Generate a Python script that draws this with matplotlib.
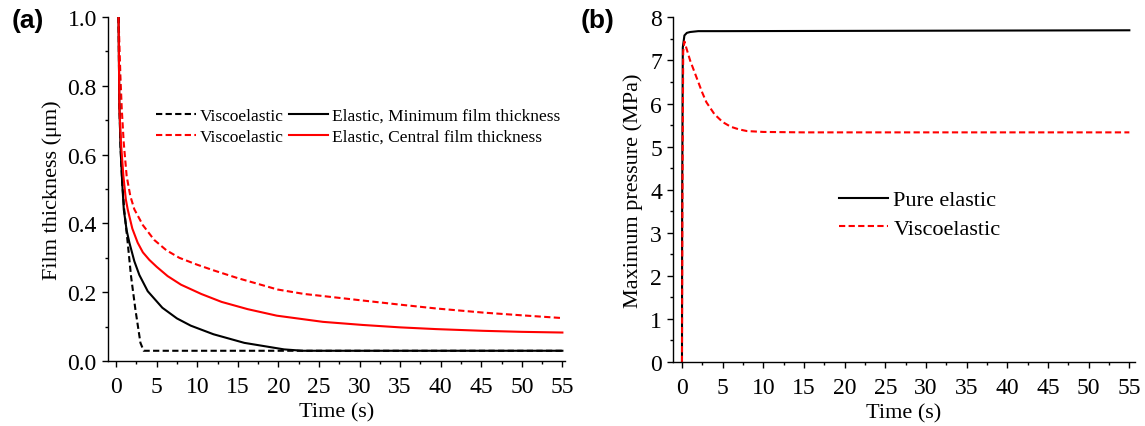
import numpy as np
import matplotlib
matplotlib.use("Agg")
import matplotlib.pyplot as plt
from matplotlib.ticker import MultipleLocator, FormatStrFormatter

plt.rcParams['font.family'] = ['Liberation Serif', 'DejaVu Serif']

# panel (a): film thickness vs time
t_vmin = [0.3, 0.4, 0.55, 0.75, 1.0, 1.43, 1.84, 2.38, 3.0, 3.4, 55]
h_vmin = [1.0, 0.75, 0.62, 0.52, 0.44, 0.344, 0.247, 0.15, 0.053, 0.03, 0.03]

t_emin = [0.3, 0.4, 0.55, 0.75, 0.95, 1.3, 1.64, 2.25, 2.87, 3.9, 5.7, 7.5, 9.2, 12, 15.8, 20.7, 23, 55]
h_emin = [1.0, 0.75, 0.62, 0.52, 0.44, 0.38, 0.344, 0.29, 0.25, 0.203, 0.155, 0.124, 0.103, 0.078, 0.053, 0.034, 0.03, 0.03]

t_vcen = [0.3, 0.53, 0.7, 0.94, 1.3, 1.75, 2.25, 3.3, 4.7, 6.2, 7.8, 10, 12.1, 15, 19.9, 23.2, 25.5,
          30.4, 35, 39.4, 45.2, 50, 55]
h_vcen = [1.0, 0.83, 0.732, 0.635, 0.538, 0.48, 0.441, 0.395, 0.352, 0.322, 0.3, 0.28, 0.263, 0.241, 0.208,
          0.195, 0.189, 0.176, 0.164, 0.153, 0.141, 0.133, 0.125]

t_ecen = [0.3, 0.41, 0.6, 0.9, 1.2, 1.43, 2.0, 2.66, 3.3, 4.1, 5.0, 6.35, 8, 10.5, 13, 16.2, 19.8, 25.5,
          30.4, 35, 39.4, 45.2, 50, 55]
h_ecen = [1.0, 0.732, 0.635, 0.538, 0.47, 0.441, 0.385, 0.344, 0.316, 0.294, 0.274, 0.247, 0.222, 0.195,
          0.172, 0.151, 0.132, 0.114, 0.105, 0.098, 0.093, 0.088, 0.085, 0.083]

# panel (b): maximum pressure vs time
t_pel = [0, 0.02, 0.1, 0.3, 0.6, 1, 2, 5, 55]
p_pel = [0, 3.5, 7.3, 7.58, 7.64, 7.66, 7.68, 7.68, 7.70]

t_pvis = [0, 0.05, 0.15, 0.3, 0.6, 1, 1.5, 2, 2.5, 3, 4, 5, 6, 7, 8, 10, 15, 55]
p_pvis = [0, 3.5, 7.2, 7.44, 7.25, 7.0, 6.75, 6.5, 6.25, 6.03, 5.75, 5.57, 5.46, 5.40, 5.36, 5.34, 5.33, 5.33]

DASH = (3, 1.6)
LW = 1.5


def style_axes(ax):
    for s in ['top', 'right']:
        ax.spines[s].set_visible(False)
    for s in ['left', 'bottom']:
        ax.spines[s].set_linewidth(1.0)
    ax.tick_params(which='both', direction='out', top=False, right=False, width=1.0, labelsize=17)
    ax.tick_params(which='major', length=4.5)
    ax.tick_params(which='minor', length=2.5)
    ax.tick_params(axis='x', which='major', pad=6)
    ax.xaxis.set_major_locator(MultipleLocator(5))
    ax.xaxis.set_minor_locator(MultipleLocator(2.5))
    ax.set_xlabel('Time (s)', fontsize=16, labelpad=4)


fig = plt.figure(figsize=(11.45, 4.27), dpi=100)
ax1 = fig.add_axes([0.0943, 0.152, 0.399, 0.806])
ax2 = fig.add_axes([0.5878, 0.150, 0.4035, 0.807])

# (a)
l1, = ax1.plot(t_vmin, h_vmin, color='black', lw=LW, dashes=DASH, label='Viscoelastic')
l2, = ax1.plot(t_vcen, h_vcen, color='red', lw=LW, dashes=DASH, label='Viscoelastic')
l3, = ax1.plot(t_emin, h_emin, color='black', lw=LW, label='Elastic, Minimum film thickness')
l4, = ax1.plot(t_ecen, h_ecen, color='red', lw=LW, label='Elastic, Central film thickness')
ax1.set_xlim(-1.0, 55.3)
ax1.set_ylim(0, 1.0)
style_axes(ax1)
ax1.yaxis.set_major_locator(MultipleLocator(0.2))
ax1.yaxis.set_minor_locator(MultipleLocator(0.1))
ax1.yaxis.set_major_formatter(FormatStrFormatter('%.1f'))
ax1.set_ylabel('Film thickness (μm)', fontsize=16, labelpad=4)
ax1.legend(handles=[l1, l2, l3, l4], ncol=2, frameon=False, fontsize=12.5,
           handlelength=2.3, handletextpad=0.2, columnspacing=0.3, labelspacing=0.3,
           loc='upper left', bbox_to_anchor=(0.09, 0.757), borderaxespad=0)

# (b)
m1, = ax2.plot(t_pel, p_pel, color='black', lw=LW, label='Pure elastic')
m2, = ax2.plot(t_pvis, p_pvis, color='red', lw=LW, dashes=DASH, label='Viscoelastic')
ax2.set_xlim(-1.1, 55.7)
ax2.set_ylim(0, 8)
style_axes(ax2)
ax2.yaxis.set_major_locator(MultipleLocator(1))
ax2.yaxis.set_minor_locator(MultipleLocator(0.5))
ax2.set_ylabel('Maximum pressure (MPa)', fontsize=16, labelpad=5)
ax2.legend(handles=[m1, m2], frameon=False, fontsize=16,
           handlelength=2.2, handletextpad=0.25, labelspacing=0.36,
           loc='upper left', bbox_to_anchor=(0.34, 0.525), borderaxespad=0)

fig.text(0.024, 0.95, '(a)', fontsize=19, fontweight='bold', family='Liberation Sans', ha='center', va='center')
fig.text(0.522, 0.95, '(b)', fontsize=19, fontweight='bold', family='Liberation Sans', ha='center', va='center')

fig.savefig('out.png', dpi=100)
